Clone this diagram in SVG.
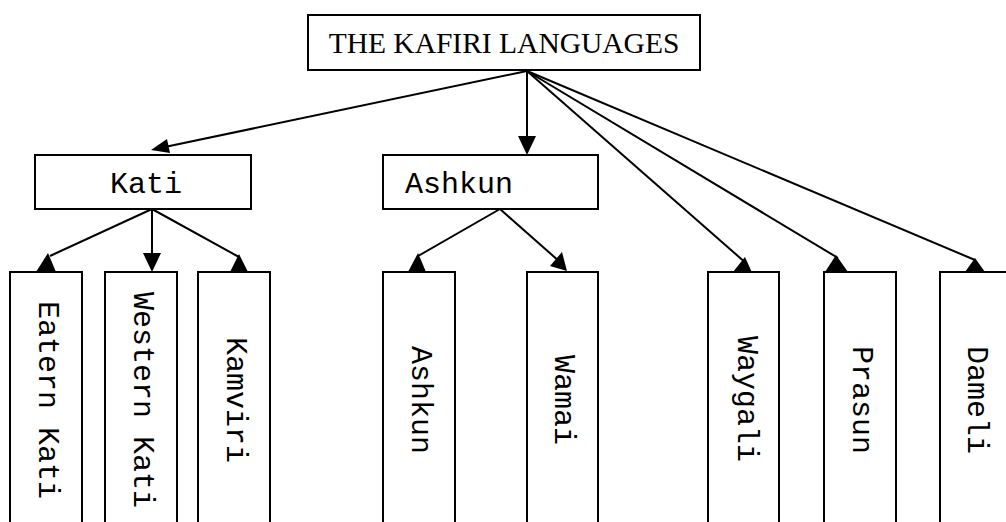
<svg xmlns="http://www.w3.org/2000/svg" width="1006" height="522" viewBox="0 0 1006 522">
<style>
.box{fill:#fff;stroke:#000;stroke-width:2}
.mono{font-family:"Courier New","Liberation Mono","DejaVu Sans Mono",monospace;font-size:30px;fill:#000}
.serif{font-family:"Times New Roman","Liberation Serif",serif;font-size:29.5px;fill:#000}
.ln{stroke:#000;stroke-width:2;fill:none}
.ah{fill:#000;stroke:none}
</style>
<rect width="1006" height="522" fill="#fff"/>
<g id="connectors">
<line class="ln" x1="527" y1="71" x2="160" y2="148"/>
<polygon class="ah" points="151,150 170,153 167,139"/>
<line class="ln" x1="527" y1="71" x2="527" y2="140"/>
<polygon class="ah" points="527,155 518,136 536,136"/>
<line class="ln" x1="527" y1="71" x2="747" y2="264"/>
<polygon class="ah" points="733,272 745,257 754,277"/>
<line class="ln" x1="527" y1="71" x2="838" y2="258"/>
<polygon class="ah" points="836,255 825,272 848,272"/>
<line class="ln" x1="527" y1="71" x2="975" y2="260"/>
<polygon class="ah" points="975,258 965,272 985,272"/>
<line class="ln" x1="152" y1="209" x2="50" y2="256"/>
<polygon class="ah" points="48,253 36,272 56,272"/>
<line class="ln" x1="152" y1="209" x2="152" y2="256"/>
<polygon class="ah" points="152,272 143,253 161,253"/>
<line class="ln" x1="152" y1="209" x2="239" y2="257"/>
<polygon class="ah" points="239,254 230,272 248,272"/>
<line class="ln" x1="500" y1="209" x2="418" y2="256"/>
<polygon class="ah" points="418,253 408,272 426,272"/>
<line class="ln" x1="500" y1="209" x2="560" y2="262"/>
<polygon class="ah" points="550,266 562,252 567,271"/>
</g>
<g id="n-title">
<rect class="box" x="308" y="15" width="392" height="55"/>
<text class="serif" x="504" y="53" text-anchor="middle">THE KAFIRI LANGUAGES</text>
</g>
<g id="n-kati">
<rect class="box" x="35" y="155" width="216" height="54"/>
<text class="mono" x="146" y="193" text-anchor="middle">Kati</text>
</g>
<g id="n-ashkun-group">
<rect class="box" x="383" y="155" width="215" height="54"/>
<text class="mono" x="405" y="193">Ashkun</text>
</g>
<g id="n-eatern-kati">
<rect class="box" x="10" y="272" width="72" height="260"/>
<text class="mono" text-anchor="middle" transform="translate(39,400) rotate(90)">Eatern Kati</text>
</g>
<g id="n-western-kati">
<rect class="box" x="105" y="272" width="72" height="260"/>
<text class="mono" text-anchor="middle" transform="translate(134,400) rotate(90)">Western Kati</text>
</g>
<g id="n-kamviri">
<rect class="box" x="198" y="272" width="72" height="260"/>
<text class="mono" text-anchor="middle" transform="translate(227,400) rotate(90)">Kamviri</text>
</g>
<g id="n-ashkun">
<rect class="box" x="383" y="272" width="72" height="260"/>
<text class="mono" text-anchor="middle" transform="translate(412,400) rotate(90)">Ashkun</text>
</g>
<g id="n-wamai">
<rect class="box" x="527" y="272" width="71" height="260"/>
<text class="mono" text-anchor="middle" transform="translate(555,400) rotate(90)">Wamai</text>
</g>
<g id="n-waygali">
<rect class="box" x="708" y="272" width="71" height="260"/>
<text class="mono" text-anchor="middle" transform="translate(738,399) rotate(90)">Waygali</text>
</g>
<g id="n-prasun">
<rect class="box" x="824" y="272" width="72" height="260"/>
<text class="mono" text-anchor="middle" transform="translate(853,400) rotate(90)">Prasun</text>
</g>
<g id="n-dameli">
<rect class="box" x="940" y="272" width="72" height="260"/>
<text class="mono" text-anchor="middle" transform="translate(968,400) rotate(90)">Dameli</text>
</g>
</svg>
